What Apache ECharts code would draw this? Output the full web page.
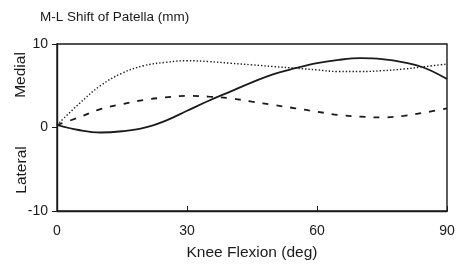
<!DOCTYPE html>
<html>
<head>
<meta charset="utf-8">
<script src="https://cdn.jsdelivr.net/npm/echarts@6/dist/echarts.min.js"></script>
<style>
  html, body { margin: 0; padding: 0; background: #fff; }
  #chart { width: 460px; height: 266px; }
</style>
</head>
<body>
<div id="chart"></div>
<script>
const flexion = [0, 5, 10, 15, 20, 25, 30, 35, 40, 45, 50, 55, 60, 65, 70, 75, 80, 85, 90]
const solidShift = [0.3, -0.3, -0.6, -0.45, -0.05, 0.8, 2.0, 3.2, 4.3, 5.4, 6.4, 7.1, 7.7, 8.1, 8.3, 8.2, 7.8, 7.1, 5.8]
const dottedShift = [0.3, 2.8, 5.0, 6.5, 7.4, 7.8, 8.0, 7.9, 7.7, 7.5, 7.3, 7.1, 6.9, 6.7, 6.7, 6.8, 7.0, 7.3, 7.6]
const dashedShift = [0.3, 1.2, 2.2, 2.8, 3.3, 3.6, 3.8, 3.7, 3.5, 3.1, 2.7, 2.3, 1.9, 1.5, 1.3, 1.2, 1.4, 1.8, 2.3]

const font = 'Liberation Sans, Arial, sans-serif'
const ink = '#1a1a1a'

const pairs = ys => flexion.map((x, i) => [x, ys[i]])

const chart = echarts.init(document.getElementById('chart'))

const option = {
  animation: false,
  title: {
    text: 'M-L Shift of Patella (mm)',
    left: 35, top: 5,
    textStyle: { fontFamily: font, fontSize: 13.5, fontWeight: 'normal', color: ink },
  },
  grid: {
    left: 57, right: 13, top: 44, bottom: 54,
    show: true, borderColor: ink, borderWidth: 1.4, backgroundColor: 'transparent',
  },
  xAxis: {
    type: 'value', min: 0, max: 90, interval: 30,
    name: 'Knee Flexion (deg)', nameLocation: 'middle', nameGap: 34,
    nameTextStyle: { fontFamily: font, fontSize: 15.5, color: ink },
    axisLine: { onZero: false, lineStyle: { color: ink, width: 1.4 } },
    axisTick: { inside: true, length: 5, lineStyle: { color: ink } },
    axisLabel: { fontFamily: font, fontSize: 14, color: ink, margin: 13 },
    splitLine: { show: false },
  },
  yAxis: {
    type: 'value', min: -10, max: 10, interval: 10,
    axisLine: { show: true, onZero: false, lineStyle: { color: ink, width: 1.4 } },
    axisTick: { show: true, length: 5, lineStyle: { color: ink } },
    axisLabel: { fontFamily: font, fontSize: 14, color: ink, margin: 9 },
    splitLine: { show: false },
  },
  graphic: [
    { type: 'text', x: 21, y: 75, rotation: Math.PI / 2,
      style: { text: 'Medial', font: '15.5px ' + font, fill: ink, align: 'center', verticalAlign: 'middle' } },
    { type: 'text', x: 22, y: 170, rotation: Math.PI / 2,
      style: { text: 'Lateral', font: '15.5px ' + font, fill: ink, align: 'center', verticalAlign: 'middle' } },
  ],
  series: [
    { type: 'line', smooth: 0.4, symbol: 'none', data: pairs(solidShift),
      lineStyle: { color: ink, width: 1.8 } },
    { type: 'line', smooth: 0.4, symbol: 'none', data: pairs(dashedShift),
      lineStyle: { color: ink, width: 1.8, type: [6, 8] } },
    { type: 'line', smooth: 0.4, symbol: 'none', data: pairs(dottedShift),
      lineStyle: { color: ink, width: 1.4, type: [1.4, 2] } },
  ],
}

chart.setOption(option)
</script>
</body>
</html>
